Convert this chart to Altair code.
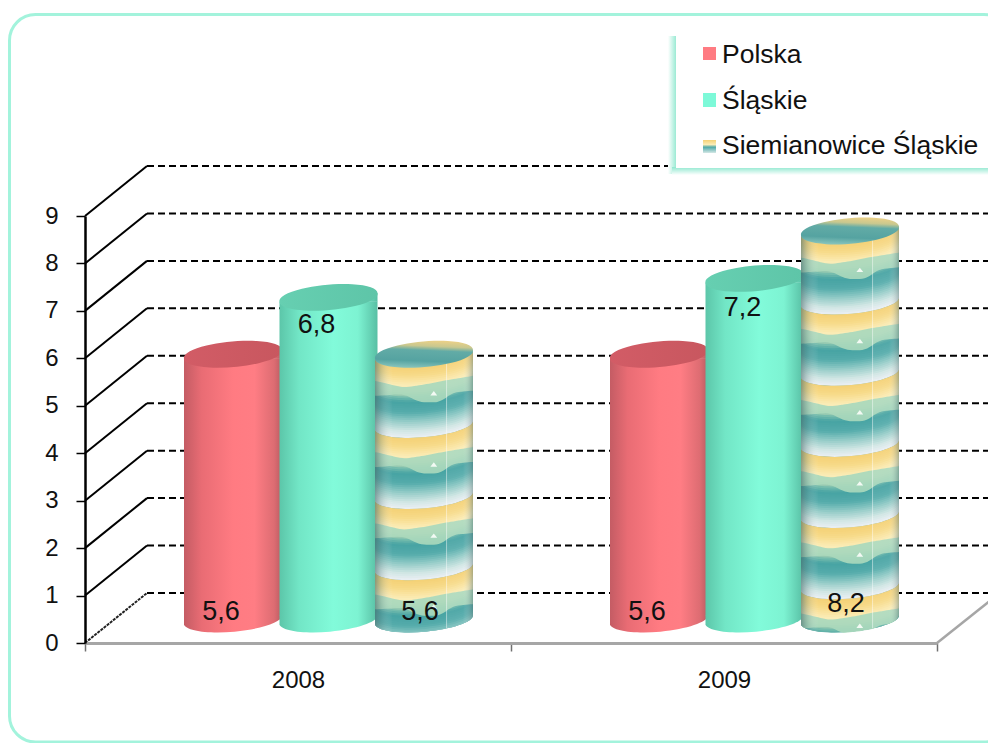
import math
import numpy as np
import pandas as pd
import altair as alt

# ---------- data ----------
years = ["2008", "2009"]
series = ["Polska", "Śląskie", "Siemianowice Śląskie"]
polska = [5.6, 5.6]
slaskie = [6.8, 7.2]
siemianowice = [5.6, 8.2]
value_labels = {"Polska": ["5,6", "5,6"], "Śląskie": ["6,8", "7,2"], "Siemianowice Śląskie": ["5,6", "8,2"]}
label_levels = {"Polska": [0.17, 0.17], "Śląskie": [6.22, 6.58], "Siemianowice Śląskie": [0.17, 0.34]}
y_ticks = list(range(10))
# level at which each repeat of the picture fill starts on the patterned cylinders
tile_levels = {"2008": [5.6, 4.1, 2.6, 1.1], "2009": [8.2, 6.7, 5.2, 3.7, 2.2, 0.7]}

values = {"Polska": polska, "Śląskie": slaskie, "Siemianowice Śląskie": siemianowice}

# ---------- styling ----------
FONT = "Liberation Sans"
PLOT_W, PLOT_H = 852, 427
UNIT_PX = PLOT_H / 9
CYL_PX = 49.0           # half width of a cylinder
CYL_SIZE = (2 * CYL_PX) ** 2
BASE_SHIFT = -23        # cylinders stand this far behind the floor edge
BACK_DX, BACK_DY = 62, -50


def grad(stops, x1=0, y1=0, x2=1, y2=0):
    return alt.Gradient(gradient="linear", x1=x1, y1=y1, x2=x2, y2=y2,
                        stops=[alt.GradientStop(color=c, offset=o) for o, c in stops])


BODY = {
    "Polska": grad([(0, "#C45C64"), (0.18, "#E96C74"), (0.5, "#FF7B82"), (0.72, "#FF7D84"), (0.92, "#DD6C72"), (1, "#B85C62")]),
    "Śląskie": grad([(0, "#5CC6A9"), (0.2, "#72E6C6"), (0.55, "#82FBDA"), (0.8, "#7DF3D2"), (1, "#58BFA4")]),
    "Siemianowice Śląskie": grad([(0, "#6FA7A5"), (0.5, "#9FD0CC"), (1, "#6FA7A5")]),
}
CAP = {
    "Polska": grad([(0, "#D25C66"), (1, "#C8575F")]),
    "Śląskie": grad([(0, "#66CFB1"), (1, "#5EC5A8")]),
    "Siemianowice Śląskie": grad([(0, "#EAD088"), (0.2, "#C9C88F"), (0.36, "#62ABA6"), (0.75, "#55A3A1"), (1, "#86C3BB")],
                                 x1=0.6, y1=0, x2=0.45, y2=1),
}
SHADE = grad([(0, "rgba(70,105,105,0.6)"), (0.06, "rgba(90,125,125,0.28)"), (0.18, "rgba(255,255,255,0)"),
              (0.72, "rgba(255,255,255,0)"), (0.725, "rgba(255,255,255,0.45)"), (0.735, "rgba(255,255,255,0.45)"),
              (0.74, "rgba(255,255,255,0.06)"), (0.9, "rgba(255,255,255,0.06)"), (1, "rgba(80,110,110,0.45)")])

# colours down one repeat of the picture fill
PATTERN = [(0.0, "#F4D176"), (0.12, "#F7DA88"), (0.26, "#FBECB6"), (0.34, "#EFE8BC"), (0.42, "#7CC0AE"),
           (0.5, "#47A3A3"), (0.64, "#55ACAB"), (0.76, "#8FC9C5"), (0.9, "#D0E6E4"), (1.0, "#EBEFF4")]


def hex_rgb(c):
    return [int(c[i:i + 2], 16) for i in (1, 3, 5)]


def pattern_colour(t):
    xs = [p[0] for p in PATTERN]
    cs = np.array([hex_rgb(p[1]) for p in PATTERN], dtype=float)
    return "#%02x%02x%02x" % tuple(int(round(np.interp(t, xs, cs[:, k]))) for k in range(3))


TILT = 0.09
B = 0.25
ROT = -5
LEFT = f"-1,{TILT}"
RIGHT = f"1,{-TILT}"
ELLIPSE = f"M{LEFT} A1.005 {B} {ROT} 1 0 {RIGHT} A1.005 {B} {ROT} 1 0 {LEFT} Z"
TOP_WEDGE = f"M{LEFT} L{RIGHT} L1,{TILT} Z"
BOT_WEDGE = f"M{LEFT} A1.005 {B} {ROT} 0 0 {RIGHT} L-1,{-TILT} Z"


def slice_path(t0, t1):
    return (f"M-1,{TILT + t0:.4f} A1.005 {B} {ROT} 0 0 1,{-TILT + t0:.4f} "
            f"L1,{-TILT + t1:.4f} A1.005 {B} {ROT} 0 1 -1,{TILT + t1:.4f} Z")


def bottom_arc(x):
    return -TILT * x + B * math.sqrt(max(0.0, 1 - x * x))


WAVE_TOP = [(-1, .54), (-.42, .68), (.05, .61), (.39, .54), (1, .44)]
WAVE_LOW = [(-1, .85), (-.42, .81), (-.08, .98), (.32, .98), (.59, .78), (1, .74)]


def wave_path(h):
    xs = np.linspace(-1, 1, 41)
    kernel = np.ones(5) / 5

    def smooth(pts):
        ys = np.interp(xs, [p[0] for p in pts], [p[1] for p in pts])
        s = np.convolve(np.pad(ys, 2, mode="edge"), kernel, mode="valid")
        return s
    top = smooth(WAVE_TOP)
    low = smooth(WAVE_LOW)
    lim = np.array([h + bottom_arc(float(x)) for x in xs])
    top, low = np.minimum(top, lim), np.minimum(low, lim)
    pts = [f"{x:.3f},{y:.3f}" for x, y in zip(xs, top)] + [f"{x:.3f},{y:.3f}" for x, y in zip(xs[::-1], low[::-1])]
    return "M" + " L".join(pts) + " Z"


# ---------- tables ----------
bars = pd.DataFrame([{"year": y, "series": s, "v": values[s][i], "base": 0, "label": value_labels[s][i],
                      "level": label_levels[s][i]}
                     for s in series for i, y in enumerate(years)])
grid = pd.DataFrame({"v": y_ticks})

strip_rows, tile_rows = [], []
STRIPS = 36
pat = series[2]
for y in years:
    lv = tile_levels[y]
    for i, level in enumerate(lv):
        nxt = lv[i + 1] if i + 1 < len(lv) else 0
        h = (level - nxt) * UNIT_PX / CYL_PX
        full = 1.5 * UNIT_PX / CYL_PX
        for k in range(STRIPS):
            t0, t1 = k * full / STRIPS, (k + 1) * full / STRIPS
            if t0 >= h:
                break
            end = min(t1 + 0.03, h)
            strip_rows.append({"year": y, "series": pat, "v": level, "path": slice_path(t0, end),
                               "col": pattern_colour((k + .5) / STRIPS)})
        tile_rows.append({"year": y, "series": pat, "v": level, "sil": slice_path(0, h), "wave": wave_path(h),
                          "tri": "M.13,.84 L.2,.75 L.27,.84 Z"})
strips = pd.DataFrame(strip_rows)
tiles = pd.DataFrame(tile_rows)

# ---------- shared encodings ----------
x_scale = alt.Scale(domain=years, paddingInner=0, paddingOuter=0)
y_scale = alt.Scale(domain=[0, 9], nice=False)
off_scale = alt.Scale(type="point", domain=series, range=[148, 339], padding=0)
x_axis = alt.Axis(labelAngle=0, labelFont=FONT, labelFontSize=24, labelColor="#111", labelPadding=17,
                  domainColor="#A6A6A6", domainWidth=3, tickColor="#707070", tickWidth=1.5, tickSize=8,
                  tickBand="extent", grid=False, zindex=1)
y_axis = alt.Axis(values=y_ticks, labelFont=FONT, labelFontSize=24, labelColor="#111", labelPadding=18,
                  domainColor="#000", domainWidth=2.5, tickColor="#000", tickWidth=1.5, tickSize=9,
                  grid=False, format="d", zindex=1)
X = alt.X("year:N", scale=x_scale, axis=x_axis, title=None)
Y = alt.Y("v:Q", scale=y_scale, axis=y_axis, title=None)
XO = alt.XOffset("series:N", scale=off_scale)

one = pd.DataFrame({"a": [0]})


def box(x, x2, y, y2, **mark):
    return alt.Chart(one).mark_rect(**mark).encode(
        x=alt.value(x), x2=alt.value(x2), y=alt.value(y), y2=alt.value(y2))


layers = []

# frame
layers.append(box(9.5 - 85, 1010 - 85, 14.5 - 216, 742 - 216, fillOpacity=0, stroke="#A3F3DC", strokeWidth=3,
                  cornerRadius=26))

# back-wall gridlines and side-wall diagonals
layers.append(alt.Chart(grid).mark_rule(color="#000", strokeWidth=2, strokeDash=[7, 4], yOffset=BACK_DY).encode(
    y=Y, x=alt.value(BACK_DX), x2=alt.value(911)))
layers.append(alt.Chart(grid[grid.v > 0]).mark_rule(color="#000", strokeWidth=2, y2Offset=BACK_DY).encode(
    y=Y, y2=alt.Y2("v:Q"), x=alt.value(0), x2=alt.value(BACK_DX)))
layers.append(alt.Chart(grid[grid.v == 0]).mark_rule(color="#222", strokeWidth=2, strokeDash=[3, 1], y2Offset=BACK_DY).encode(
    y=Y, y2=alt.Y2("v:Q"), x=alt.value(0), x2=alt.value(BACK_DX)))
# right edge of the floor
layers.append(alt.Chart(grid[grid.v == 0]).mark_rule(color="#A6A6A6", strokeWidth=2.5, y2Offset=-47).encode(
    y=Y, y2=alt.Y2("v:Q"), x=alt.value(PLOT_W), x2=alt.value(911)))

# cylinders
for idx, s in enumerate(series):
    d = bars[bars.series == s]
    layers.append(
        alt.Chart(d).mark_bar(width=2 * CYL_PX, fill=BODY[s], yOffset=BASE_SHIFT + 4, y2Offset=BASE_SHIFT - 4).encode(
            x=X, xOffset=XO, y=Y, y2=alt.Y2("base:Q")))
    layers.append(
        alt.Chart(d).mark_point(shape=TOP_WEDGE, size=CYL_SIZE, filled=True, fill=BODY[s], opacity=1, strokeWidth=0,
                                yOffset=BASE_SHIFT).encode(x=X, xOffset=XO, y=Y))
    layers.append(
        alt.Chart(d).mark_point(shape=BOT_WEDGE, size=CYL_SIZE, filled=True, fill=BODY[s], opacity=1, strokeWidth=0,
                                yOffset=BASE_SHIFT).encode(x=X, xOffset=XO, y=alt.Y("base:Q", scale=y_scale, axis=y_axis, title=None)))
    if s == pat:
        layers.append(
            alt.Chart(strips).mark_point(size=CYL_SIZE, filled=True, opacity=1, strokeWidth=0, yOffset=BASE_SHIFT).encode(
                x=X, xOffset=XO, y=Y, shape=alt.Shape("path:N", scale=None), fill=alt.Fill("col:N", scale=None)))
        layers.append(
            alt.Chart(tiles).mark_point(size=CYL_SIZE, filled=True, fill="#A9D8BC", opacity=0.92, strokeWidth=0,
                                        yOffset=BASE_SHIFT).encode(
                x=X, xOffset=XO, y=Y, shape=alt.Shape("wave:N", scale=None)))
        layers.append(
            alt.Chart(tiles).mark_point(size=CYL_SIZE, filled=True, fill="#F3FAF4", opacity=1, strokeWidth=0,
                                        yOffset=BASE_SHIFT).encode(
                x=X, xOffset=XO, y=Y, shape=alt.Shape("tri:N", scale=None)))
        layers.append(
            alt.Chart(tiles).mark_point(size=CYL_SIZE, filled=True, fill=SHADE, opacity=1, strokeWidth=0,
                                        yOffset=BASE_SHIFT).encode(
                x=X, xOffset=XO, y=Y, shape=alt.Shape("sil:N", scale=None)))
    layers.append(
        alt.Chart(d).mark_point(shape=ELLIPSE, size=CYL_SIZE, filled=True, fill=CAP[s], opacity=1, strokeWidth=0,
                                yOffset=BASE_SHIFT).encode(x=X, xOffset=XO, y=Y))

# value labels
for s, dx in zip(series, [-12, -12, -4]):
    layers.append(
        alt.Chart(bars[bars.series == s]).mark_text(font=FONT, fontSize=27, color="#111", dx=dx, yOffset=BASE_SHIFT).encode(
            x=X, xOffset=XO, y=alt.Y("level:Q", scale=y_scale, axis=y_axis, title=None), text="label:N"))

# legend
SH = "#8FE8CF"
layers.append(box(668 - 85, 677 - 85, 36 - 216, 174 - 216, fill=grad([(0, "#FFFFFF"), (1, SH)])))
layers.append(box(672 - 85, 1000 - 85, 167 - 216, 175 - 216, fill=grad([(0, SH), (1, "#FFFFFF")], x2=0, y2=1)))
layers.append(box(676 - 85, 1000 - 85, 33 - 216, 168 - 216, fill="#FFFFFF"))
layers.append(box(703 - 85, 716 - 85, 47 - 216, 60 - 216, fill="#FF7B82"))
layers.append(box(703 - 85, 716 - 85, 93 - 216, 107 - 216, fill="#7DF9D8"))
layers.append(box(703 - 85, 716 - 85, 140 - 216, 153 - 216,
                  fill=grad([(0, "#F4D176"), (0.35, "#FBECB6"), (0.55, "#4FA9A8"), (1, "#D5E8E6")], x2=0, y2=1)))
for name, py in zip(series, [55, 101, 146]):
    layers.append(alt.Chart(pd.DataFrame({"t": [name]})).mark_text(font=FONT, fontSize=26.5, color="#111", align="left").encode(
        x=alt.value(722 - 85), y=alt.value(py - 216), text="t:N"))

chart = alt.layer(*layers).properties(
    width=PLOT_W, height=PLOT_H, autosize=alt.AutoSizeParams(type="none"),
    padding={"left": 77, "top": 208, "right": 51, "bottom": 100}, background="#FFFFFF",
).configure_view(stroke=None)

chart.save("out.html", embed_options={"renderer": "svg", "actions": False})
